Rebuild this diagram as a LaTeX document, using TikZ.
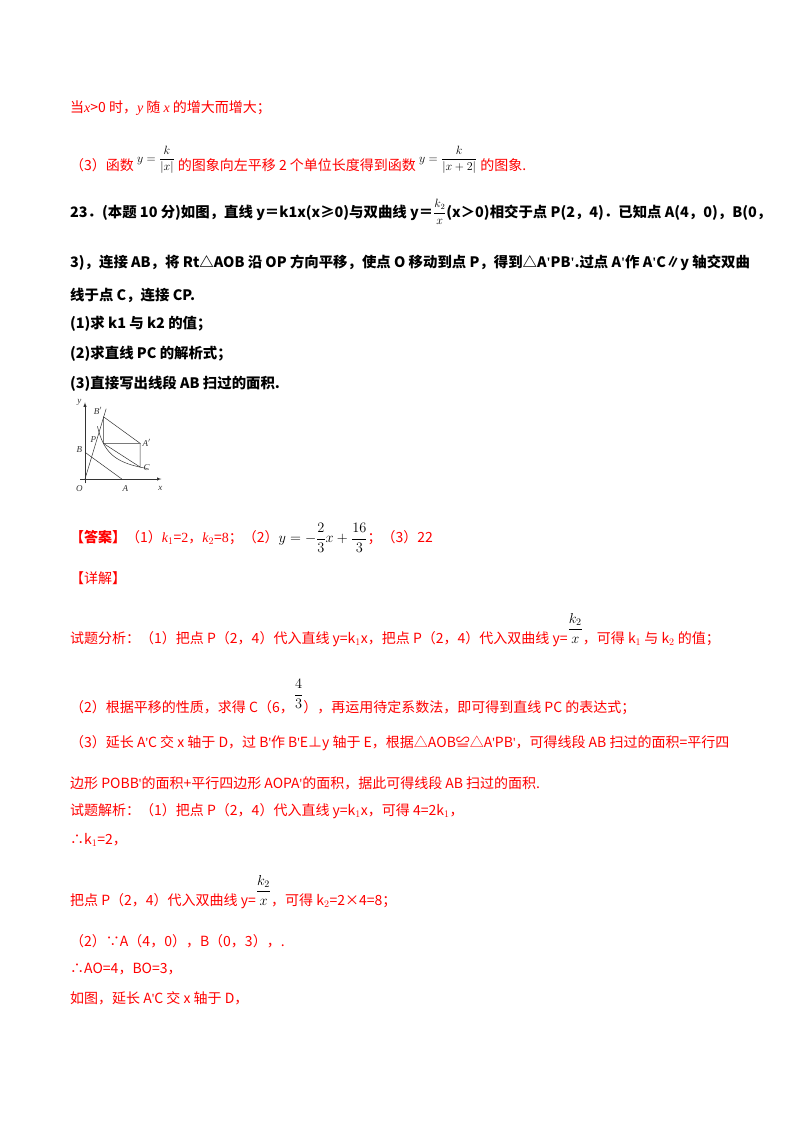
\documentclass[tikz,border=0pt]{standalone}
\usepackage{amsmath}
\usepackage{fontspec}
\setmainfont{Noto Sans CJK SC}
\newfontfamily\lat{Liberation Serif}
\newcommand{\ap}{{\lat'}}
\newcommand{\fs}{\fontsize{12}{14}\selectfont}
\begin{document}
\begin{tikzpicture}[x=1pt,y=-1pt,
  r/.style={anchor=west,inner sep=0pt,text=red,font=\fontsize{14}{16}\selectfont},
  k/.style={anchor=west,inner sep=0pt,font=\bfseries\fontsize{14.4}{16}\selectfont},
  fl/.style={inner sep=0pt,font=\lat\itshape\fontsize{9}{10}\selectfont}]
\useasboundingbox[fill=white] (0,0) rectangle (800,1132);
\node[r] (l1) at (70,108) {当{\lat\itshape x}>0 时，{\lat\itshape y} 随 {\lat\itshape x} 的增大而增大；};
\node[r] (l2) at (70,160) {（3）函数 \raisebox{8pt}{\color{black}\fs$y=\dfrac{k}{|x|}$} 的图象向左平移 2 个单位长度得到函数 \raisebox{8pt}{\color{black}\fs$y=\dfrac{k}{|x+2|}$} 的图象.};
\node[k] (q1) at (70,212) {23．(本题 10 分)如图，直线 y＝k1x(x≥0)与双曲线 y＝\raisebox{1pt}{\fs$\dfrac{k_2}{x}$}(x＞0)相交于点 P(2，4)．已知点 A(4，0)，B(0，};
\node[k] (q2) at (70,263) {3)，连接 AB，将 Rt△AOB 沿 OP 方向平移，使点 O 移动到点 P，得到△A\ap PB\ap.过点 A\ap 作 A\ap C∥y 轴交双曲};
\node[k] (q3) at (70,295) {线于点 C，连接 CP.};
\node[k] (q4) at (70,324) {(1)求 k1 与 k2 的值；};
\node[k] (q5) at (70,354) {(2)求直线 PC 的解析式；};
\node[k] (q6) at (70,384) {(3)直接写出线段 AB 扫过的面积.};
\begin{scope}[xshift=85pt,yshift=-479pt,x=9.2pt,y=8.9pt,line width=0.5pt,black!80]
\draw[-latex] (-0.5,0) -- (8.3,0);
\draw[-latex] (0,-0.5) -- (0,8.6);
\draw (4,0) -- (0,3);
\draw (0,0) -- (2.3,7.9);
\draw (2,7) -- (6,4) -- (2,4) -- (2,7);
\draw (6,4) -- (6,4/3) -- (2,4);
\draw[domain=1.35:6.8,samples=40] plot (\x,{8/\x});
\node[fl] (ny) at (-0.6,8.6) {y};
\node[fl] (nx) at (8.2,-1.1) {x};
\node[fl] (nO) at (-0.6,-1.1) {O};
\node[fl] (nA) at (4.4,-1.1) {A};
\node[fl] (nB) at (-0.6,3.3) {B};
\node[fl] (nP) at (0.9,4.4) {P};
\node[fl] (nB2) at (1.4,7.7) {B$'$};
\node[fl] (nA2) at (6.7,4.1) {A$'$};
\node[fl] (nC) at (6.7,1.3) {C};
\end{scope}
\node[r] (ans) at (70,538) {\textbf{【答案】}（1）{\lat\itshape k}$_1$={\lat 2}，{\lat\itshape k}$_2$={\lat 8}；（2）{\color{black}$y=-\dfrac{2}{3}x+\dfrac{16}{3}$}；（3）22};
\node[r] (xj) at (70,578) {【详解】};
\node[r] (a1) at (70,630) {试题分析：（1）把点 P（2，4）代入直线 y=k$_1$x，把点 P（2，4）代入双曲线 y=\raisebox{10pt}{\color{black}$\dfrac{k_2}{x}$}，可得 k$_1$ 与 k$_2$ 的值；};
\node[r] (a2) at (70,697) {（2）根据平移的性质，求得 C（6，\raisebox{14pt}{\color{black}$\dfrac{4}{3}$}），再运用待定系数法，即可得到直线 PC 的表达式；};
\node[r] (a3) at (70,743) {（3）延长 A\ap C 交 x 轴于 D，过 B\ap 作 B\ap E⊥y 轴于 E，根据△AOB≌△A\ap PB\ap，可得线段 AB 扫过的面积=平行四};
\node[r] (a4) at (70,783) {边形 POBB\ap 的面积+平行四边形 AOPA\ap 的面积，据此可得线段 AB 扫过的面积.};
\node[r] (b1) at (70,811) {试题解析：（1）把点 P（2，4）代入直线 y=k$_1$x，可得 4=2k$_1$，};
\node[r] (b2) at (70,840) {∴k$_1$=2，};
\node[r] (b3) at (70,892) {把点 P（2，4）代入双曲线 y=\raisebox{10pt}{\color{black}$\dfrac{k_2}{x}$}，可得 k$_2$=2×4=8；};
\node[r] (b4) at (70,941) {（2）∵A（4，0），B（0，3），.};
\node[r] (b5) at (70,969) {∴AO=4，BO=3，};
\node[r] (b6) at (70,998) {如图，延长 A\ap C 交 x 轴于 D，};
\end{tikzpicture}
\end{document}
